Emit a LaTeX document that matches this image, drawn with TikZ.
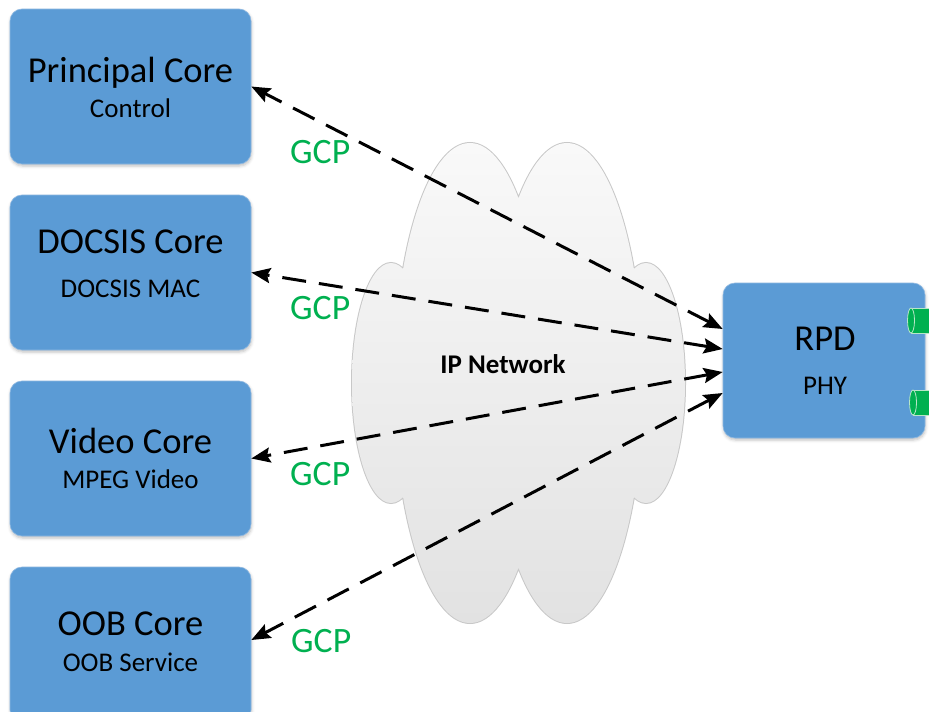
\documentclass[tikz,border=0pt]{standalone}
\usepackage{fontspec}
\setmainfont{Carlito}
\usetikzlibrary{arrows.meta,shadows.blur}

\definecolor{coreblue}{HTML}{5B9BD5}
\definecolor{coreedge}{HTML}{8DB8E2}
\definecolor{gcpgreen}{HTML}{00B050}
\definecolor{portedge}{HTML}{B8E6C8}
\definecolor{cloudedge}{HTML}{C8C8C8}
\definecolor{cloudtop}{HTML}{F9F9F9}
\definecolor{cloudbot}{HTML}{E2E2E2}

\begin{document}
\begin{tikzpicture}[x=1pt,y=-1pt,
  corebox/.style={draw=coreedge, line width=0.6pt, fill=coreblue,
    rounded corners=12pt, minimum width=241pt, minimum height=155pt,
    inner sep=0pt,
    blur shadow={shadow xshift=0.5pt, shadow yshift=-2pt,
      shadow blur radius=3pt, shadow opacity=25}},
  maintext/.style={anchor=base, inner sep=0pt, font=\fontsize{36.5}{40}\selectfont},
  subtext/.style={anchor=base, inner sep=0pt, font=\fontsize{27}{30}\selectfont},
  gcp/.style={anchor=base west, inner sep=0pt, text=gcpgreen,
    font=\fontsize{35.7}{40}\selectfont},
  link/.style={line width=3pt, dash pattern=on 24pt off 13pt,
    {Stealth[length=19pt,width=15pt,inset=3pt]}-{Stealth[length=19pt,width=15pt,inset=3pt]}},
  port/.style={fill=gcpgreen, draw=portedge, line width=0.8pt},
]
\useasboundingbox (0,0) rectangle (929,712);

% IP network cloud: union of two tall lobes and two side bumps
\draw[cloudedge, line width=2pt]
  (470,383) ellipse [x radius=76pt, y radius=240pt]
  (567,383) ellipse [x radius=76pt, y radius=240pt]
  (391,383) ellipse [x radius=39pt, y radius=120pt]
  (646,383) ellipse [x radius=39pt, y radius=120pt];
\shade[top color=cloudtop, bottom color=cloudbot]
  (470,383) ellipse [x radius=76pt, y radius=240pt]
  (567,383) ellipse [x radius=76pt, y radius=240pt]
  (391,383) ellipse [x radius=39pt, y radius=120pt]
  (646,383) ellipse [x radius=39pt, y radius=120pt];
\node[anchor=base, inner sep=0pt, font=\bfseries\fontsize{27}{30}\selectfont]
  (ipnet) at (503,373) {IP Network};

% core boxes
\node[corebox] (pc)    at (130.5,86.5)  {};
\node[corebox] (docs)  at (130.5,272.5) {};
\node[corebox] (video) at (130.5,458.5) {};
\node[corebox] (oob)   at (130.5,644.5) {};

% remote PHY device with its two RF ports on the right edge
\node[corebox, minimum width=202pt] (rpd) at (824,360.5) {};
\draw[port] (911,308) -- (935,308) -- (935,333) -- (911,333) -- cycle;
\draw[port] (911,320.5) ellipse [x radius=3.5pt, y radius=12.5pt];
\draw[port] (913,390) -- (935,390) -- (935,415) -- (913,415) -- cycle;
\draw[port] (913,402.5) ellipse [x radius=3.5pt, y radius=12.5pt];

% box labels
\node[maintext] (pct)  at (130.5,82)  {Principal Core};
\node[subtext]  (pcs)  at (130.5,117) {Control};
\node[maintext] (dct)  at (130.5,253) {DOCSIS Core};
\node[subtext]  (dcs)  at (130.5,297) {DOCSIS MAC};
\node[maintext] (vct)  at (130.5,453) {Video Core};
\node[subtext]  (vcs)  at (130.5,488) {MPEG Video};
\node[maintext] (oct)  at (130.5,635) {OOB Core};
\node[subtext]  (ocs)  at (130.5,671) {OOB Service};
\node[maintext] (rpdt) at (825,350)   {RPD};
\node[subtext]  (rpds) at (825,394)   {PHY};

% GCP control links
\draw[link] ([yshift=31.5pt]rpd.west)  -- (pc.east);
\draw[link] ([yshift=11.5pt]rpd.west)  -- (docs.east);
\draw[link] ([yshift=-11.5pt]rpd.west) -- (video.east);
\draw[link] ([yshift=-32.5pt]rpd.west) -- ([yshift=4.5pt]oob.east);

\node[gcp] (g1) at (290,163) {GCP};
\node[gcp] (g2) at (290,319) {GCP};
\node[gcp] (g3) at (290,485) {GCP};
\node[gcp] (g4) at (291,652) {GCP};
\end{tikzpicture}
\end{document}
